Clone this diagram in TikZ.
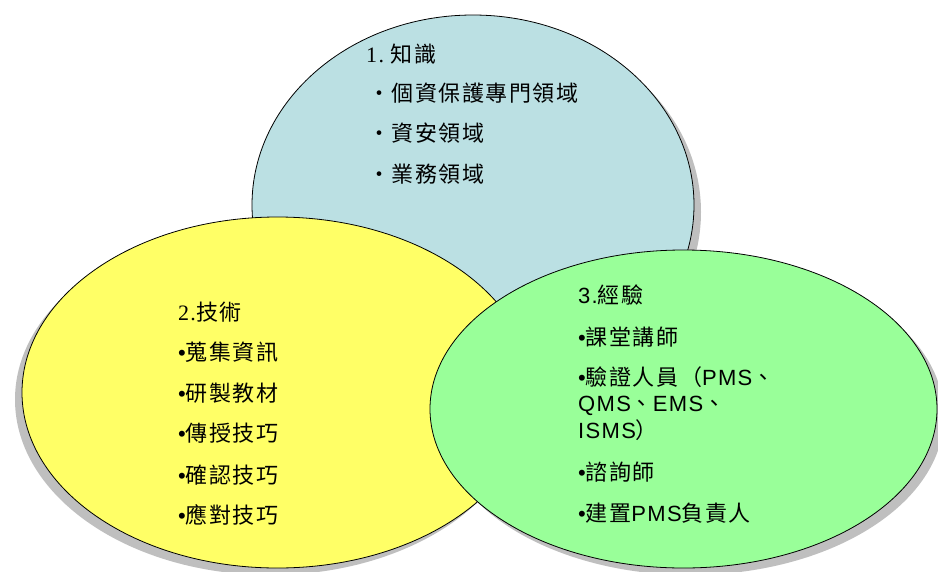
\documentclass[tikz,border=0pt]{standalone}
\usepackage{fontspec}
\setmainfont{Liberation Sans}
\newfontfamily\cjkf[LetterSpace=7]{Noto Sans CJK TC}
\newfontfamily\latf[LetterSpace=6]{Liberation Sans}
\newfontfamily\serf[LetterSpace=6]{Liberation Serif}
\definecolor{bluef}{RGB}{187,224,227}
\definecolor{yellowf}{RGB}{255,255,102}
\definecolor{greenf}{RGB}{153,255,153}
\definecolor{shadowc}{RGB}{191,191,191}
\tikzset{
  venn/.style={draw=black, line width=0.8pt},
  shad/.style={fill=shadowc},
  txt/.style={anchor=west, inner sep=0pt, text height=19.4pt, text depth=2.6pt,
    font=\fontsize{22}{26}\selectfont\cjkf},
}
\begin{document}
\begin{tikzpicture}[x=1pt,y=-1pt]
\useasboundingbox (0,0) rectangle (938,571);
% blue (back)
\fill[shad] (480,212) ellipse [x radius=221pt, y radius=190pt];
\draw[venn, fill=bluef] (473,205) ellipse [x radius=221pt, y radius=190pt];
% yellow
\fill[shad] (270.5,399.5) ellipse [x radius=255.5pt, y radius=175.5pt];
\draw[venn, fill=yellowf] (277.5,392.5) ellipse [x radius=255.5pt, y radius=175.5pt];
% green (front)
\fill[shad] (690.5,416) ellipse [x radius=253.5pt, y radius=159pt];
\draw[venn, fill=greenf] (683.5,409) ellipse [x radius=253.5pt, y radius=159pt];
% blue texts
\node[txt] (b0) at (366,54) {{\serf 1.}\hspace{6.5pt}知識};
\node[txt] (b1) at (368,93) {・個資保護專門領域};
\node[txt] (b2) at (368,133) {・資安領域};
\node[txt] (b3) at (368,174) {・業務領域};
% yellow texts
\node[txt] (y0) at (178,312) {{\serf 2.}技術};
\node[txt] (y1) at (178,352) {{\latf •}蒐集資訊};
\node[txt] (y2) at (178,393) {{\latf •}研製教材};
\node[txt] (y3) at (178,433) {{\latf •}傳授技巧};
\node[txt] (y4) at (178,475) {{\latf •}確認技巧};
\node[txt] (y5) at (178,515) {{\latf •}應對技巧};
% green texts
\node[txt] (g0) at (578,295) {{\latf 3.}經驗};
\node[txt] (g1) at (578,337) {{\latf •}課堂講師};
\node[txt] (g2) at (578,377) {{\latf •}驗證人員（{\latf PMS}、};
\node[txt] (g3) at (578,403) {{\latf QMS}、{\latf EMS}、};
\node[txt] (g4) at (578,430) {{\latf ISMS}）};
\node[txt] (g5) at (578,472) {{\latf •}諮詢師};
\node[txt] (g6) at (578,513) {{\latf •}建置{\latf PMS}負責人};
\end{tikzpicture}
\end{document}
